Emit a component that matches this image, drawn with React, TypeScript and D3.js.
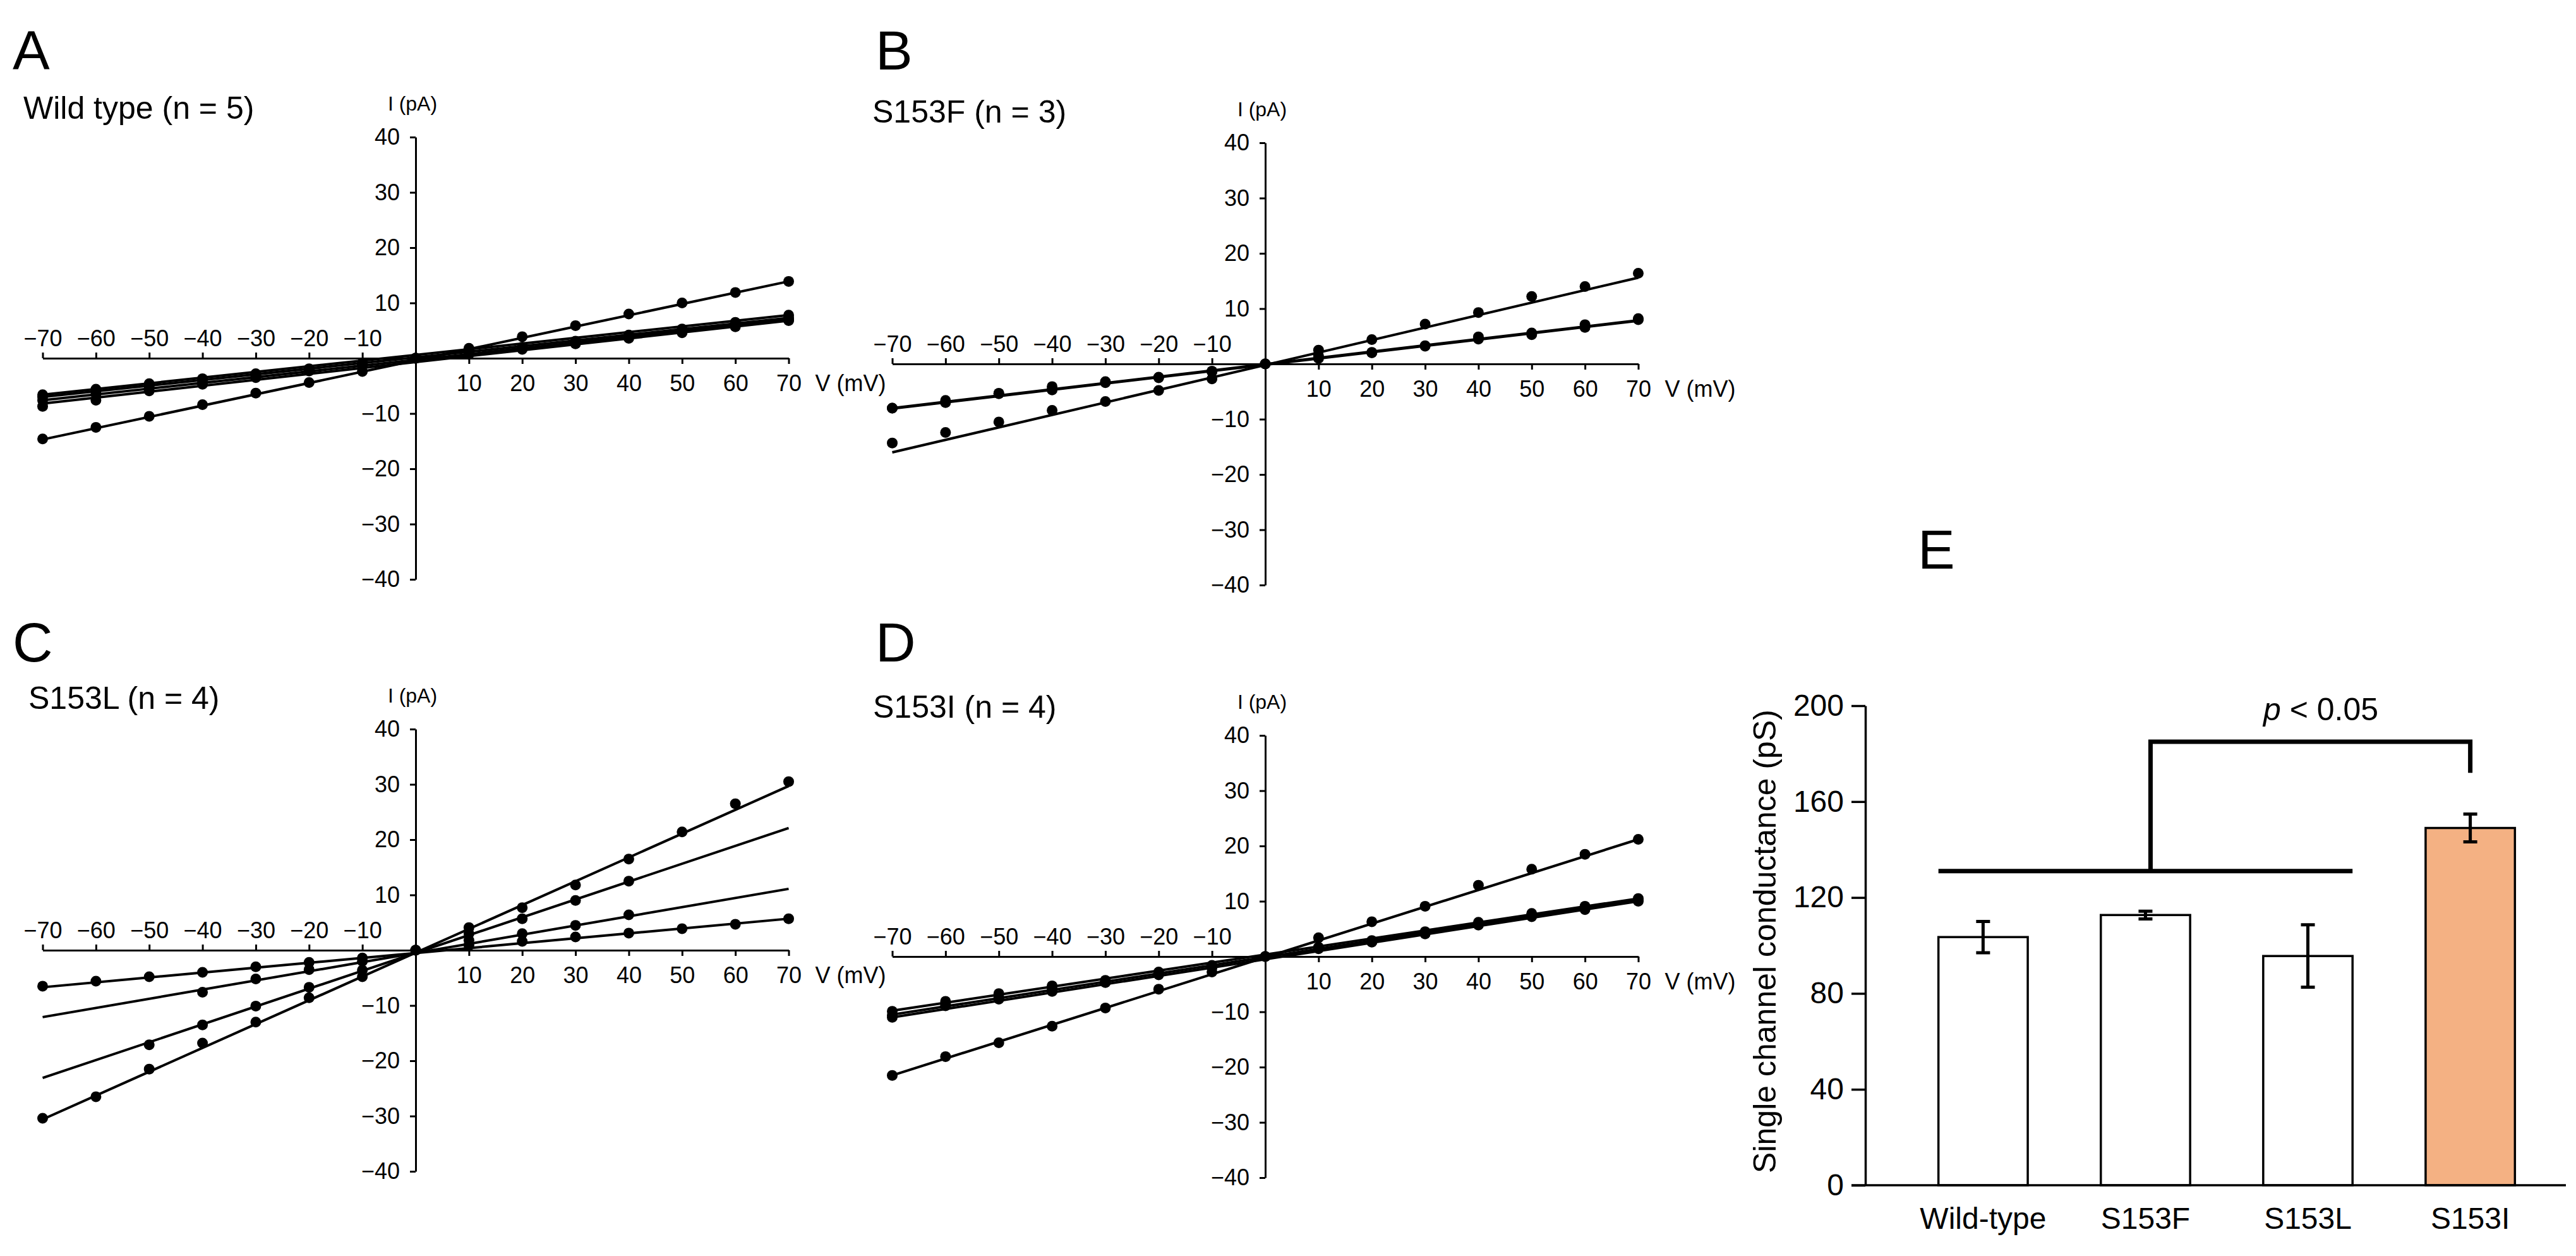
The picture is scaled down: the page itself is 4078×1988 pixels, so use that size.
import { useEffect, useRef } from "react";
import * as d3 from "d3";

const FONT = "'Liberation Sans', Arial, Helvetica, sans-serif";

// Voltage steps of the I-V protocol (mV)
const VOLTAGES = [-70, -60, -50, -40, -30, -20, -10, 0, 10, 20, 30, 40, 50, 60, 70];
const V_TICKS = [-70, -60, -50, -40, -30, -20, -10, 10, 20, 30, 40, 50, 60, 70];
const I_TICKS = [-40, -30, -20, -10, 10, 20, 30, 40];

// Currents (pA) per recording at each voltage step, null = not recorded
const WT_CURRENTS = [
  [-14.6, -12.5, -10.5, -8.4, -6.3, -4.4, -2.4, 0, 1.8, 3.9, 5.9, 8.0, 10.0, 11.9, 13.9],
  [-6.6, -5.6, -4.6, -3.7, -2.8, -1.9, -0.9, 0, 1.0, 2.0, 3.1, 4.2, 5.3, 6.5, 7.8],
  [-7.0, -6.0, -5.0, -4.0, -3.0, -2.0, -1.0, 0, 0.9, 1.9, 2.9, 4.0, 5.1, 6.2, 7.3],
  [-7.6, -6.5, -5.4, -4.4, -3.3, -2.2, -1.1, 0, 0.8, 1.8, 2.7, 3.8, 4.8, 5.9, 7.0],
  [-8.7, -7.6, -5.9, -4.7, -3.5, -2.3, -1.3, 0, 0.7, 1.6, 2.6, 3.6, 4.6, 5.7, 6.8],
];
// Fitted current (pA) at -70 and +70 mV
const WT_FITS = [
  [-14.7, 13.9],
  [-6.6, 7.8],
  [-7.0, 7.3],
  [-7.6, 7.0],
  [-8.2, 6.8],
];

const S153F_CURRENTS = [
  [-14.3, -12.4, -10.5, -8.4, -6.8, -4.8, -2.7, 0, 2.5, 4.4, 7.2, 9.3, 12.2, 14.0, 16.4],
  [-8.0, -6.6, -5.3, -4.1, -3.2, -2.4, -1.3, 0, 1.5, 2.1, 3.3, 4.9, 5.6, 7.1, 8.2],
  [-8.0, -7.0, -5.4, -4.7, -3.4, -2.5, -1.4, 0, 1.0, 2.0, 3.2, 4.5, 5.3, 6.6, 8.0],
];
const S153F_FITS = [
  [-16.0, 15.6],
  [-8.0, 7.9],
  [-8.1, 7.8],
];

const S153L_CURRENTS = [
  [-30.4, -26.5, -21.5, -16.8, -13.0, -8.6, -4.8, 0, 4.1, 7.7, 11.8, 16.5, 21.4, 26.5, 30.5],
  [null, null, -17.1, -13.5, -10.1, -6.7, -3.6, 0, 3.0, 5.7, 9.0, 12.5, null, null, null],
  [null, null, null, -7.6, -5.2, -3.5, -2.0, 0, 1.8, 3.0, 4.5, 6.4, null, null, null],
  [-6.5, -5.6, -4.8, -4.0, -3.0, -2.2, -1.4, 0, 0.9, 1.6, 2.4, 3.1, 3.9, 4.7, 5.7],
];
const S153L_FITS = [
  [-30.6, 29.7],
  [-23.1, 22.1],
  [-12.1, 11.1],
  [-6.7, 5.7],
];

const S153I_CURRENTS = [
  [-21.5, -18.1, -15.6, -12.6, -9.3, -5.9, -2.8, 0, 3.4, 6.3, 9.1, 12.9, 15.8, 18.5, 21.2],
  [-9.9, -8.1, -6.7, -5.3, -4.3, -2.8, -1.6, 0, 1.7, 2.9, 4.5, 6.2, 7.8, 9.1, 10.5],
  [-10.6, -8.6, -7.3, -5.8, -4.5, -3.0, -1.8, 0, 1.5, 2.7, 4.3, 5.9, 7.5, 8.8, 10.2],
  [-11.0, -8.9, -7.7, -6.3, -4.7, -3.3, -2.0, 0, 1.4, 2.6, 4.1, 5.7, 7.2, 8.5, 10.0],
];
const S153I_FITS = [
  [-21.5, 21.2],
  [-9.8, 10.5],
  [-10.5, 10.3],
  [-11.0, 10.0],
];

// Panel E: single channel conductance (pS)
const GROUPS = ["Wild-type", "S153F", "S153L", "S153I"];
const CONDUCTANCE = [103.5, 112.7, 95.6, 149.0];
const CONDUCTANCE_SEM = [6.5, 1.6, 13.0, 5.8];
const G_TICKS = [0, 40, 80, 120, 160, 200];
// significance bracket: group line, top, drop end (pS)
const BRACKET = [131, 185, 172];

const IV_PANELS = [
  { letter: "A", title: "Wild type (n = 5)", currents: WT_CURRENTS, fits: WT_FITS, ox: 658, oy: 567, lx: 20, ly: 110, tx: 37, ty: 188 },
  { letter: "B", title: "S153F (n = 3)", currents: S153F_CURRENTS, fits: S153F_FITS, ox: 2003, oy: 576, lx: 1386, ly: 110, tx: 1381, ty: 194 },
  { letter: "C", title: "S153L (n = 4)", currents: S153L_CURRENTS, fits: S153L_FITS, ox: 658, oy: 1504, lx: 20, ly: 1047, tx: 45, ty: 1122 },
  { letter: "D", title: "S153I (n = 4)", currents: S153I_CURRENTS, fits: S153I_FITS, ox: 2003, oy: 1514, lx: 1386, ly: 1047, tx: 1382, ty: 1136 },
];

type Panel = (typeof IV_PANELS)[number];

function drawIV(svg: d3.Selection<SVGSVGElement, unknown, null, undefined>, p: Panel) {
  const x = d3.scaleLinear().domain([-70, 70]).range([p.ox - 590.5, p.ox + 590.5]);
  const y = d3.scaleLinear().domain([-40, 40]).range([p.oy + 350, p.oy - 350]);
  const g = svg.append("g");

  g.append("text")
    .attr("x", p.lx)
    .attr("y", p.ly)
    .attr("font-size", 88)
    .text(p.letter);

  g.append("text")
    .attr("x", p.tx)
    .attr("y", p.ty)
    .attr("font-size", 50)
    .text(p.title);

  const yAxis = g
    .append("g")
    .attr("transform", `translate(${p.ox},0)`)
    .call(d3.axisLeft(y).tickValues(I_TICKS).tickSize(9).tickSizeOuter(0).tickPadding(16));

  const xAxis = g
    .append("g")
    .attr("transform", `translate(0,${p.oy})`)
    .call(d3.axisBottom(x).tickValues(V_TICKS).tickSize(9).tickSizeOuter(0));

  // negative voltages: labels and ticks above the axis
  xAxis.selectAll<SVGLineElement, number>(".tick line").attr("y2", (d) => (d < 0 ? -9 : 9));
  xAxis
    .selectAll<SVGTextElement, number>(".tick text")
    .attr("dy", null)
    .attr("y", (d) => (d < 0 ? -19 : 52));

  for (const ax of [xAxis, yAxis]) {
    ax.attr("font-family", FONT).attr("font-size", 36);
    ax.selectAll("text").attr("fill", "#000");
    ax.selectAll(".domain, .tick line").attr("stroke", "#000").attr("stroke-width", 3);
  }

  g.append("text")
    .attr("x", p.ox - 5)
    .attr("y", y(40) - 42)
    .attr("text-anchor", "middle")
    .attr("font-size", 32)
    .text("I (pA)");

  g.append("text")
    .attr("x", x(70) + 42)
    .attr("y", p.oy + 52)
    .attr("font-size", 36)
    .text("V (mV)");

  const line = d3
    .line<[number, number]>()
    .x((d) => x(d[0]))
    .y((d) => y(d[1]));

  g.selectAll(".fit")
    .data(p.fits)
    .join("path")
    .attr("d", (f) => line([[-70, f[0]], [70, f[1]]]))
    .attr("fill", "none")
    .attr("stroke", "#000")
    .attr("stroke-width", 4);

  const pts: [number, number][] = [];
  for (const rec of p.currents) {
    rec.forEach((c, k) => {
      if (c !== null) pts.push([VOLTAGES[k], c]);
    });
  }
  g.selectAll(".pt")
    .data(pts)
    .join("circle")
    .attr("cx", (d) => x(d[0]))
    .attr("cy", (d) => y(d[1]))
    .attr("r", 8.5)
    .attr("fill", "#000");
}

function drawBars(svg: d3.Selection<SVGSVGElement, unknown, null, undefined>) {
  const x = d3.scaleBand().domain(GROUPS).range([2953, 4097]).padding(0.45);
  const y = d3.scaleLinear().domain([0, 200]).range([1876, 1117]);
  const g = svg.append("g");
  const bw = x.bandwidth();

  g.append("text").attr("x", 3036).attr("y", 900).attr("font-size", 88).text("E");

  g.selectAll(".bar")
    .data(GROUPS)
    .join("rect")
    .attr("x", (d) => x(d)!)
    .attr("y", (_, i) => y(CONDUCTANCE[i]))
    .attr("width", bw)
    .attr("height", (_, i) => y(0) - y(CONDUCTANCE[i]))
    .attr("fill", (_, i) => (i === GROUPS.length - 1 ? "#F4B183" : "#fff"))
    .attr("stroke", "#000")
    .attr("stroke-width", 3.5);

  const err = g
    .selectAll(".err")
    .data(GROUPS)
    .join("path")
    .attr("d", (d, i) => {
      const cx = x(d)! + bw / 2;
      const hi = y(CONDUCTANCE[i] + CONDUCTANCE_SEM[i]);
      const lo = y(CONDUCTANCE[i] - CONDUCTANCE_SEM[i]);
      return `M${cx - 11},${hi}H${cx + 11}M${cx},${hi}V${lo}M${cx - 11},${lo}H${cx + 11}`;
    });
  err.attr("fill", "none").attr("stroke", "#000").attr("stroke-width", 5);

  const yAxis = g
    .append("g")
    .attr("transform", `translate(2953,0)`)
    .call(d3.axisLeft(y).tickValues(G_TICKS).tickSize(22).tickSizeOuter(0).tickPadding(12));
  yAxis.attr("font-family", FONT).attr("font-size", 48);
  yAxis.selectAll("text").attr("fill", "#000");
  yAxis.selectAll(".domain, .tick line").attr("stroke", "#000").attr("stroke-width", 3.5);

  g.append("line")
    .attr("x1", 2931)
    .attr("x2", 4062)
    .attr("y1", y(0))
    .attr("y2", y(0))
    .attr("stroke", "#000")
    .attr("stroke-width", 3.5);

  g.selectAll(".cat")
    .data(GROUPS)
    .join("text")
    .attr("x", (d) => x(d)! + bw / 2)
    .attr("y", 1945)
    .attr("text-anchor", "middle")
    .attr("font-size", 48)
    .text((d) => d);

  g.append("text")
    .attr("transform", "translate(2811,1490) rotate(-90)")
    .attr("text-anchor", "middle")
    .attr("font-size", 50)
    .text("Single channel conductance (pS)");

  const [low, top, drop] = BRACKET;
  const left = x(GROUPS[0])!;
  const right = x(GROUPS[2])! + bw;
  const mid = x(GROUPS[1])! + bw / 2 + 8;
  const target = x(GROUPS[3])! + bw / 2;
  g.append("path")
    .attr("d", `M${left},${y(low)}H${right}M${mid},${y(low)}V${y(top)}H${target}V${y(drop)}`)
    .attr("fill", "none")
    .attr("stroke", "#000")
    .attr("stroke-width", 7);

  const pt = g
    .append("text")
    .attr("x", 3674)
    .attr("y", 1140)
    .attr("text-anchor", "middle")
    .attr("font-size", 50);
  pt.append("tspan").attr("font-style", "italic").text("p");
  pt.append("tspan").text(" < 0.05");
}

export default function App() {
  const svgRef = useRef<SVGSVGElement>(null);

  useEffect(() => {
    if (!svgRef.current) return;
    const svg = d3.select(svgRef.current);
    svg.selectAll("*").remove();
    for (const p of IV_PANELS) drawIV(svg, p);
    drawBars(svg);
  }, []);

  return (
    <svg
      ref={svgRef}
      width={4078}
      height={1988}
      fontFamily={FONT}
      style={{ position: "absolute", left: 0, top: 0, background: "#fff" }}
    />
  );
}
